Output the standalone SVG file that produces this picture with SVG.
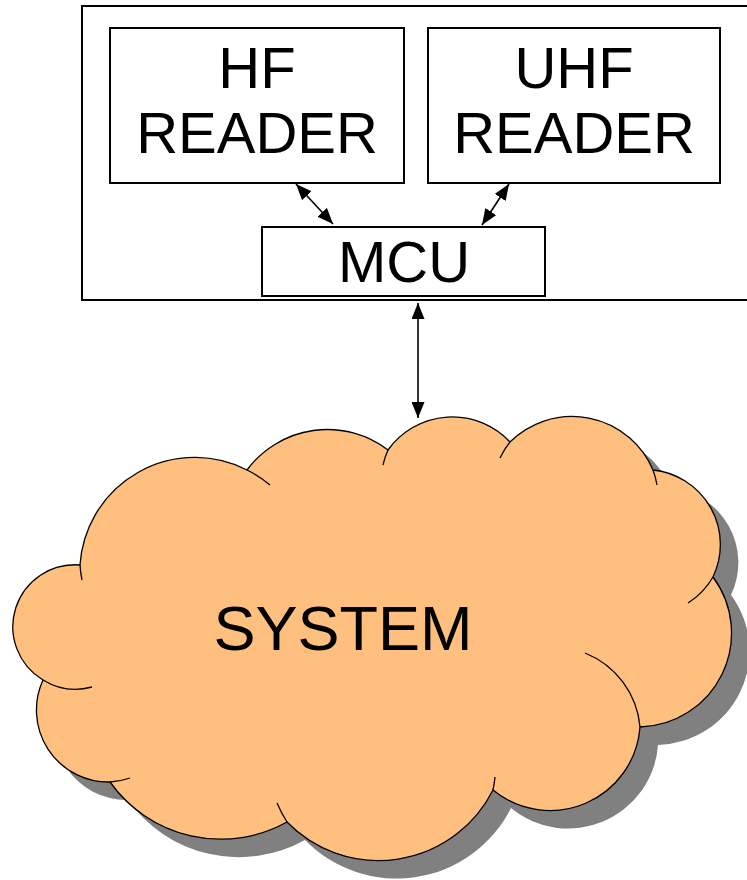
<svg xmlns="http://www.w3.org/2000/svg" width="747" height="880" viewBox="0 0 747 880">
<style>
.box{fill:#fff;stroke:#000;stroke-width:2}
.lbl{font-family:"Liberation Sans",Arial,sans-serif;fill:#000;text-anchor:middle}
.con{stroke:#000;stroke-width:1.6;fill:none}
.cl{fill:#ffbf7f;stroke:#000;stroke-width:1.3}
.tail{fill:none;stroke:#000;stroke-width:1.3}
</style>
<defs>
<marker id="ah" viewBox="0 0 10 10" refX="10" refY="5" markerWidth="16" markerHeight="13" markerUnits="userSpaceOnUse" orient="auto-start-reverse" preserveAspectRatio="none">
<path d="M0,0 L10,5 L0,10 z" fill="#000"/>
</marker>
<path id="cloudPath" d="M80,565 A115,115 0 0 1 247,470 A100,100 0 0 1 388,450 A79,79 0 0 1 510,442 A88,88 0 0 1 653,470 A75,75 0 0 1 713,577 A94,94 0 0 1 640,727 A90,90 0 0 1 493,790 A128,128 0 0 1 287,822 A136,136 0 0 1 110,782 A72,72 0 0 1 43,680 A62,62 0 0 1 80,565 Z"/>
</defs>
<g id="container">
<rect class="box" x="82" y="6" width="680" height="294"/>
</g>
<g id="hf-reader">
<rect class="box" x="110" y="28" width="294" height="155"/>
<text class="lbl" x="257" y="88" font-size="58">HF</text>
<text class="lbl" x="257" y="153" font-size="58">READER</text>
</g>
<g id="uhf-reader">
<rect class="box" x="428" y="28" width="292" height="155"/>
<text class="lbl" x="574" y="88" font-size="58">UHF</text>
<text class="lbl" x="574" y="153" font-size="58">READER</text>
</g>
<g id="mcu">
<rect class="box" x="262" y="227" width="283" height="69"/>
<text class="lbl" x="404" y="282" font-size="58">MCU</text>
</g>
<g id="system">
<use href="#cloudPath" transform="translate(18,18)" fill="#808080"/>
<use href="#cloudPath" class="cl"/>
<path class="tail" d="M82,580 A115,115 0 0 1 80,565 M247,470 A115,115 0 0 1 270,485 M383,465 A79,79 0 0 1 388,450 M500,458 A88,88 0 0 1 510,442 M653,470 A88,88 0 0 1 657,485 M713,577 A75,75 0 0 1 688,603 M585,653 A88,88 0 0 1 640,727 M495,777 A128,128 0 0 1 493,790 M287,822 A128,128 0 0 1 277,803 M130,778 A72,72 0 0 1 110,782 M92,687 A62,62 0 0 1 43,680"/>
<text class="lbl" x="343" y="650" font-size="63">SYSTEM</text>
</g>
<g id="connectors">
<line class="con" x1="296" y1="184" x2="333" y2="224" marker-start="url(#ah)" marker-end="url(#ah)"/>
<line class="con" x1="509" y1="184" x2="482" y2="225" marker-start="url(#ah)" marker-end="url(#ah)"/>
<line class="con" x1="418" y1="303" x2="418" y2="418" marker-start="url(#ah)" marker-end="url(#ah)"/>
</g>
</svg>
